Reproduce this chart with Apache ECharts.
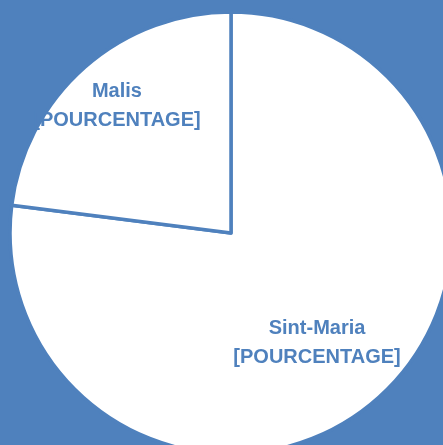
<!DOCTYPE html>
<html>
<head>
<meta charset="utf-8">
<script src="https://cdn.jsdelivr.net/npm/echarts@6/dist/echarts.min.js"></script>
<style>html,body{margin:0;padding:0;background:#4F81BD;}#c{width:443px;height:445px;}</style>
</head>
<body>
<div id="c"></div>
<script>
const categories = ['Sint-Maria', 'Malis'];
const values = [77, 23];
const labelText = '[POURCENTAGE]';

const chart = echarts.init(document.getElementById('c'), null, {renderer: 'canvas'});
const shifts = [[11, 25], [-39, -42]];
chart.setOption({
  backgroundColor: '#4F81BD',
  animation: false,
  series: [{
    type: 'pie',
    center: [231, 233],
    radius: [0, 221],
    startAngle: 90,
    clockwise: true,
    data: categories.map((c, i) => ({name: c, value: values[i]})),
    itemStyle: {color: '#FFFFFF', borderColor: '#4F81BD', borderWidth: 3.5},
    label: {
      show: true,
      position: 'inside',
      formatter: p => p.name + '\n' + labelText,
      color: '#4F81BD',
      fontFamily: 'Liberation Sans',
      fontWeight: 'bold',
      fontSize: 20,
      lineHeight: 29,
      align: 'center'
    },
    labelLayout: p => ({dx: shifts[p.dataIndex][0], dy: shifts[p.dataIndex][1]}),
    emphasis: {disabled: true}
  }]
});
</script>
</body>
</html>
